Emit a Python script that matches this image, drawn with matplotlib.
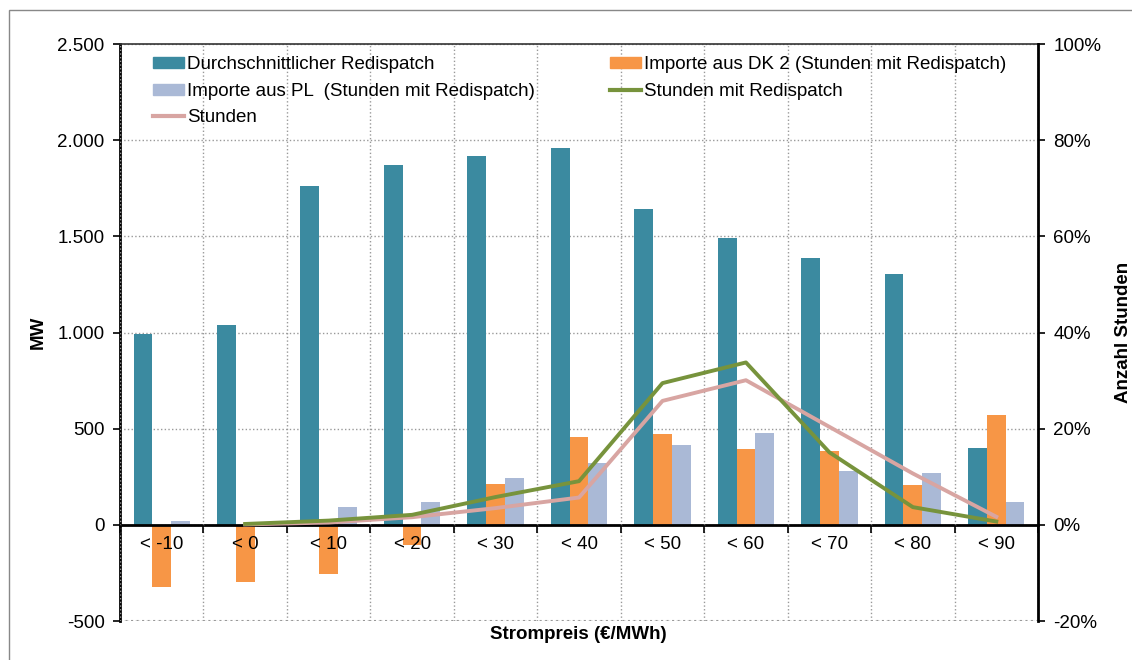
import numpy as np
import matplotlib
matplotlib.use('Agg')
import matplotlib.pyplot as plt
from matplotlib.patches import Patch
from matplotlib.lines import Line2D

plt.rcParams['font.family'] = ['Liberation Sans', 'DejaVu Sans']

categories = ['< -10', '< 0', '< 10', '< 20', '< 30', '< 40', '< 50', '< 60', '< 70', '< 80', '< 90']
redispatch = [995, 1040, 1765, 1870, 1920, 1960, 1645, 1490, 1390, 1305, 400]
import_dk2 = [-324, -295, -256, -107, 213, 457, 475, 395, 385, 206, 572]
import_pl = [22, 5, 95, 120, 243, 322, 416, 478, 281, 269, 120]
# percent lines start at "< 0"
stunden_redispatch = [0.2, 0.9, 2.1, 5.8, 9.1, 29.5, 33.8, 15.1, 3.7, 0.7]
stunden = [0.1, 0.5, 1.6, 3.5, 5.7, 25.8, 30.1, 20.4, 10.7, 1.7]

c_teal = '#3B8AA0'
c_orange = '#F79646'
c_lav = '#AAB9D6'
c_green = '#77933C'
c_pink = '#D8A5A2'
fs = 13.5

fig = plt.figure(figsize=(11.32, 6.6), dpi=100)
ax = fig.add_axes([0.106, 0.059, 0.811, 0.874])
ax2 = ax.twinx()

x = np.arange(len(categories))
w = 0.225
ax.bar(x - w, redispatch, w, color=c_teal, zorder=2)
ax.bar(x, import_dk2, w, color=c_orange, zorder=2)
ax.bar(x + w, import_pl, w, color=c_lav, zorder=2)

ax.set_xlim(-0.5, len(categories) - 0.5)
ax.set_ylim(-500, 2500)
ax.set_yticks([-500, 0, 500, 1000, 1500, 2000, 2500])
ax.set_yticklabels(['-500', '0', '500', '1.000', '1.500', '2.000', '2.500'])
ax.yaxis.grid(True, color='#999999', linestyle=':', linewidth=1)

# x ticks at boundaries, labels at centers
ax.set_xticks(np.arange(-0.5, len(categories) + 0.5, 1))
ax.set_xticklabels([])
ax.set_xticks(x, minor=True)
ax.set_xticklabels(categories, minor=True)
ax.tick_params(axis='x', which='major', length=6, width=1.2, direction='out', color='black')
ax.tick_params(axis='x', which='minor', length=0, pad=8, labelsize=fs)
ax.xaxis.grid(True, which='major', color='#999999', linestyle=':', linewidth=1)
ax.spines['bottom'].set_position(('data', 0))
ax.spines['bottom'].set_linewidth(2)
ax.spines['left'].set_linewidth(2)
ax.spines['top'].set_color('#333333')
ax.spines['top'].set_linewidth(1.2)
ax.tick_params(axis='y', labelsize=fs, length=5, width=1.2, pad=6)
ax.set_axisbelow(True)
# category labels sit on top of the negative bars
ax.xaxis.set_zorder(3)
ax.spines['bottom'].set_zorder(3)

# bottom boundary line of the plot area
ax.axhline(-500, color='#999999', linestyle=':', linewidth=1.5)

ax.set_ylabel('MW', fontsize=fs, fontweight='bold', labelpad=8)
fig.text(0.511, 0.038, 'Strompreis (€/MWh)', ha='center', va='center', fontsize=fs, fontweight='bold')

xl = x[1:]
ax2.plot(xl, stunden, color=c_pink, linewidth=2.8, zorder=3)
ax2.plot(xl, stunden_redispatch, color=c_green, linewidth=2.8, zorder=4)
ax2.set_ylim(-20, 100)
ax2.set_yticks([-20, 0, 20, 40, 60, 80, 100])
ax2.set_yticklabels([f'{v}%' for v in [-20, 0, 20, 40, 60, 80, 100]])
ax2.tick_params(axis='y', labelsize=fs, length=5, width=1.2, pad=6)
ax2.spines['right'].set_linewidth(2)
ax2.spines['top'].set_visible(False)
ax2.spines['left'].set_visible(False)
ax2.spines['bottom'].set_visible(False)
ax2.set_ylabel('Anzahl Stunden', fontsize=fs, fontweight='bold', labelpad=10)

handles = [
    Patch(color=c_teal, label='Durchschnittlicher Redispatch'),
    Patch(color=c_lav, label='Importe aus PL  (Stunden mit Redispatch)'),
    Line2D([], [], color=c_pink, linewidth=3, label='Stunden'),
    Patch(color=c_orange, label='Importe aus DK 2 (Stunden mit Redispatch)'),
    Line2D([], [], color=c_green, linewidth=3, label='Stunden mit Redispatch'),
]
leg = ax2.legend(handles=handles, ncol=2, loc='upper left', bbox_to_anchor=(0.018, 1.008),
                 frameon=False, fontsize=fs, handlelength=1.65, handleheight=0.5,
                 handletextpad=0.15, labelspacing=0.5, columnspacing=4.0)

# outer border (runs off the right and bottom edge)
fig.patches.append(plt.Rectangle((9 / 1132, -0.05), 1.1, 1.05 - 10 / 660, transform=fig.transFigure,
                                 fill=False, edgecolor='#888888', linewidth=1.0))

fig.savefig('out.png', dpi=100)
